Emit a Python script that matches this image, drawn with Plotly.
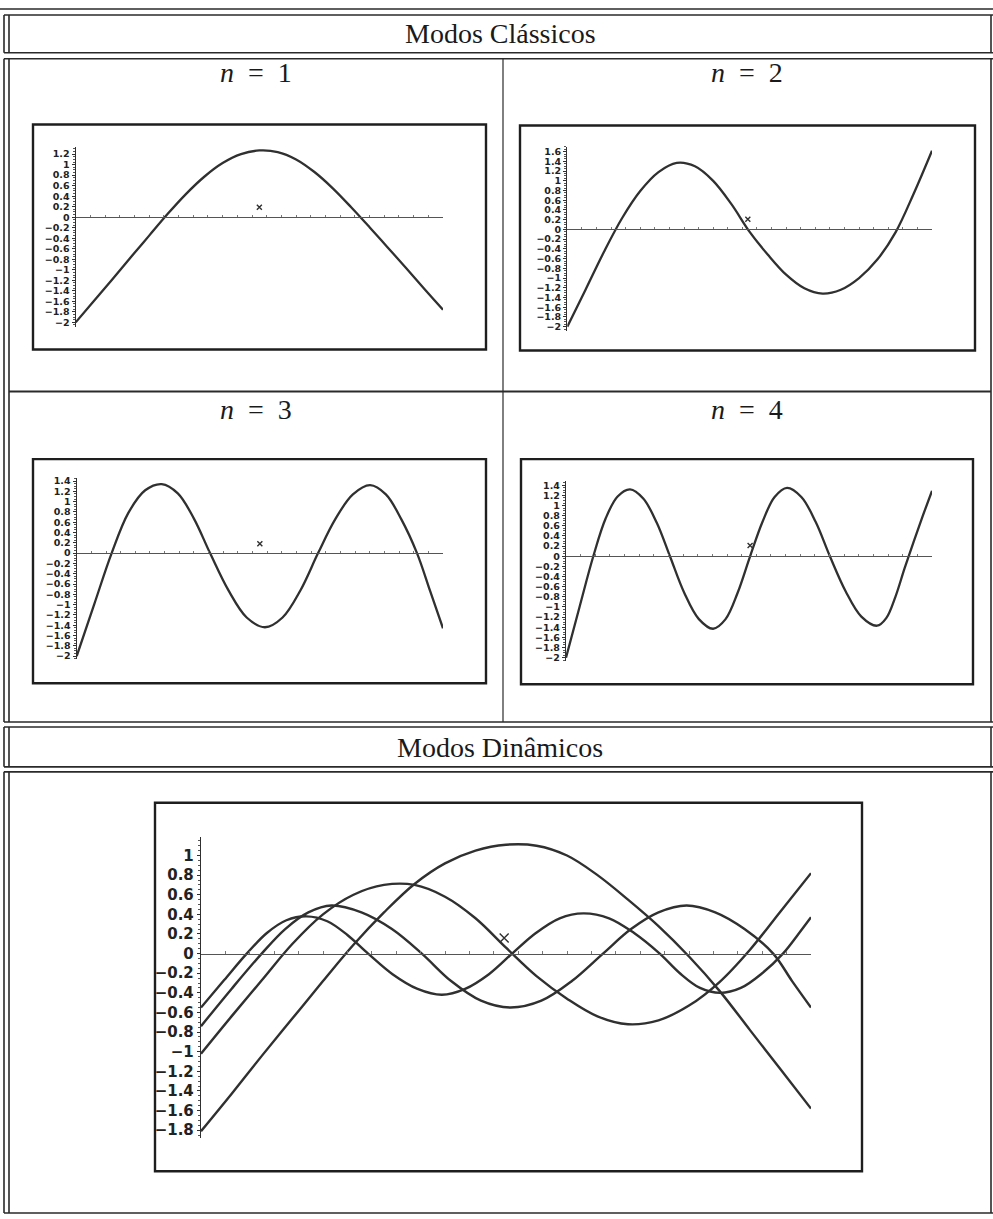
import plotly.graph_objects as go

W, H = 993, 1219

# ---------------- classical modes (x = fraction of the span) ----------------
n1_x = [0.00, 0.05, 0.10, 0.15, 0.20, 0.25, 0.30, 0.35, 0.40, 0.45, 0.50,
        0.55, 0.60, 0.65, 0.70, 0.75, 0.80, 0.85, 0.90, 0.95, 1.00]
n1_y = [-2.00, -1.59, -1.18, -0.76, -0.35, 0.06, 0.44, 0.77, 1.03, 1.20, 1.27,
        1.24, 1.10, 0.86, 0.55, 0.19, -0.19, -0.58, -0.97, -1.37, -1.76]

n2_x = [0.00, 0.05, 0.10, 0.15, 0.20, 0.25, 0.30, 0.35, 0.40, 0.45, 0.50,
        0.55, 0.60, 0.65, 0.70, 0.75, 0.80, 0.85, 0.90, 0.95, 1.00]
n2_y = [-2.00, -1.24, -0.47, 0.23, 0.79, 1.18, 1.37, 1.30, 1.00, 0.52, -0.05,
        -0.52, -0.93, -1.21, -1.32, -1.24, -1.00, -0.62, -0.06, 0.74, 1.62]

n3_x = [0.000, 0.048, 0.0955, 0.141, 0.187, 0.232, 0.276, 0.320, 0.364, 0.414,
        0.464, 0.514, 0.562, 0.611, 0.659, 0.706, 0.754, 0.801, 0.844, 0.886,
        0.929, 0.965, 1.000]
n3_y = [-2.00, -0.99, 0.00, 0.78, 1.22, 1.34, 1.16, 0.67, 0.00, -0.72,
        -1.25, -1.44, -1.25, -0.72, 0.00, 0.66, 1.14, 1.32, 1.14, 0.66,
        0.00, -0.74, -1.46]

n4_x = [0.000, 0.037, 0.0746, 0.108, 0.141, 0.175, 0.211, 0.248, 0.284, 0.323,
        0.363, 0.402, 0.436, 0.469, 0.503, 0.537, 0.570, 0.604, 0.643, 0.682,
        0.721, 0.764, 0.807, 0.850, 0.875, 0.900, 0.925, 0.950, 0.975, 1.000]
n4_y = [-2.00, -1.00, 0.00, 0.74, 1.18, 1.32, 1.14, 0.66, 0.00, -0.72,
        -1.24, -1.43, -1.24, -0.72, 0.00, 0.68, 1.17, 1.35, 1.17, 0.68,
        0.00, -0.69, -1.19, -1.37, -1.22, -0.80, -0.24, 0.29, 0.80, 1.29]

# ---------------- dynamic modes ----------------
d1_x = [0.00, 0.05, 0.10, 0.15, 0.20, 0.25, 0.30, 0.35, 0.40, 0.45, 0.50,
        0.55, 0.60, 0.65, 0.70, 0.75, 0.80, 0.85, 0.90, 0.95, 1.00]
d1_y = [-1.81, -1.43, -1.04, -0.66, -0.28, 0.09, 0.42, 0.71, 0.92, 1.05, 1.11,
        1.10, 1.00, 0.80, 0.55, 0.28, -0.03, -0.38, -0.78, -1.18, -1.58]

d2_x = [0.00, 0.05, 0.10, 0.15, 0.20, 0.25, 0.30, 0.35, 0.40, 0.45, 0.50,
        0.55, 0.60, 0.65, 0.70, 0.75, 0.80, 0.85, 0.90, 0.95, 1.00]
d2_y = [-1.02, -0.64, -0.27, 0.10, 0.40, 0.60, 0.70, 0.70, 0.58, 0.36, 0.06,
        -0.23, -0.46, -0.64, -0.72, -0.68, -0.53, -0.29, 0.04, 0.43, 0.82]

d3_x = [0.000, 0.050, 0.0995, 0.138, 0.176, 0.214, 0.263, 0.313, 0.362, 0.410,
        0.459, 0.507, 0.558, 0.608, 0.659, 0.705, 0.750, 0.796, 0.843, 0.891,
        0.938, 0.969, 1.000]
d3_y = [-0.74, -0.36, 0.00, 0.25, 0.42, 0.49, 0.42, 0.25, 0.00, -0.28,
        -0.48, -0.55, -0.48, -0.28, 0.00, 0.25, 0.42, 0.49, 0.42, 0.25,
        0.00, -0.28, -0.55]

d4_x = [0.000, 0.038, 0.075, 0.108, 0.140, 0.173, 0.207, 0.240, 0.274, 0.314,
        0.355, 0.395, 0.433, 0.472, 0.510, 0.549, 0.588, 0.627, 0.669, 0.710,
        0.752, 0.785, 0.818, 0.851, 0.885, 0.920, 0.954, 0.977, 1.000]
d4_y = [-0.55, -0.27, 0.00, 0.21, 0.34, 0.38, 0.33, 0.19, 0.00, -0.21,
        -0.36, -0.42, -0.36, -0.21, 0.00, 0.21, 0.36, 0.41, 0.36, 0.21,
        0.00, -0.20, -0.35, -0.40, -0.35, -0.20, 0.00, 0.18, 0.37]

# centre marker of each plot
mark_x = [0.50, 0.495, 0.50, 0.503, 0.497]
mark_y = [0.19, 0.21, 0.18, 0.21, 0.16]

# y tick values of each plot
ticks_n1 = [-2.0, -1.8, -1.6, -1.4, -1.2, -1.0, -0.8, -0.6, -0.4, -0.2, 0.0,
            0.2, 0.4, 0.6, 0.8, 1.0, 1.2]
ticks_n2 = [-2.0, -1.8, -1.6, -1.4, -1.2, -1.0, -0.8, -0.6, -0.4, -0.2, 0.0,
            0.2, 0.4, 0.6, 0.8, 1.0, 1.2, 1.4, 1.6]
ticks_n3 = [-2.0, -1.8, -1.6, -1.4, -1.2, -1.0, -0.8, -0.6, -0.4, -0.2, 0.0,
            0.2, 0.4, 0.6, 0.8, 1.0, 1.2, 1.4]
ticks_n4 = [-2.0, -1.8, -1.6, -1.4, -1.2, -1.0, -0.8, -0.6, -0.4, -0.2, 0.0,
            0.2, 0.4, 0.6, 0.8, 1.0, 1.2, 1.4]
ticks_dyn = [-1.8, -1.6, -1.4, -1.2, -1.0, -0.8, -0.6, -0.4, -0.2, 0.0,
             0.2, 0.4, 0.6, 0.8, 1.0]

titles = ["Modos Clássicos", "Modos Dinâmicos"]
panel_titles = ["<i>n</i>\u2002=\u20021", "<i>n</i>\u2002=\u20022",
                "<i>n</i>\u2002=\u20023", "<i>n</i>\u2002=\u20024"]

INK = "#303030"


def fx(px):
    return px / W


def fy(py):
    return 1 - py / H


def tick_text(v):
    return f"{v:g}".replace("-", "\u2212")


# plot layout: axis extents in pixels, y range, font size, line width
plots = [
    dict(curves=[(n1_x, n1_y)], x0=75.7, x1=443, top=144.9, bot=324.9,
         yr=[-2.08, 1.33], ticks=ticks_n1, fs=9.5, lw=2.3, ms=5),
    dict(curves=[(n2_x, n2_y)], x0=567.3, x1=932, top=144.4, bot=328.9,
         yr=[-2.08, 1.70], ticks=ticks_n2, fs=9.5, lw=2.3, ms=5),
    dict(curves=[(n3_x, n3_y)], x0=76.7, x1=443, top=477.4, bot=658.9,
         yr=[-2.06, 1.45], ticks=ticks_n3, fs=9.5, lw=2.3, ms=5),
    dict(curves=[(n4_x, n4_y)], x0=566, x1=932, top=480.2, bot=660.4,
         yr=[-2.06, 1.48], ticks=ticks_n4, fs=9.5, lw=2.3, ms=5),
    dict(curves=[(d1_x, d1_y), (d2_x, d2_y), (d3_x, d3_y), (d4_x, d4_y)],
         x0=201, x1=811, top=837.3, bot=1139.7,
         yr=[-1.88, 1.19], ticks=ticks_dyn, fs=15, lw=2.4, ms=9),
]

fig = go.Figure()
layout = {}

for i, p in enumerate(plots):
    k = "" if i == 0 else str(i + 1)
    xa, ya = "x" + k, "y" + k
    for cx, cy in p["curves"]:
        fig.add_trace(go.Scatter(
            x=cx, y=cy, mode="lines", xaxis=xa, yaxis=ya,
            line=dict(color=INK, width=p["lw"], shape="spline", smoothing=1.0),
            hoverinfo="skip", showlegend=False))
    fig.add_trace(go.Scatter(
        x=[mark_x[i]], y=[mark_y[i]], mode="markers", xaxis=xa, yaxis=ya,
        marker=dict(symbol="x-thin", size=p["ms"], line=dict(color=INK, width=1.4)),
        hoverinfo="skip", showlegend=False))

    d0, d1 = fy(p["bot"]), fy(p["top"])
    r0, r1 = p["yr"]
    zero_pos = d0 + (0 - r0) / (r1 - r0) * (d1 - d0)
    layout["xaxis" + k] = dict(
        domain=[fx(p["x0"]), fx(p["x1"])], range=[0, 1], anchor="free",
        position=zero_pos, showline=True, linecolor="#555", linewidth=1,
        ticks="inside", tick0=0, dtick=0.04, ticklen=2.5, tickwidth=1,
        tickcolor="#777", showticklabels=False, showgrid=False, zeroline=False,
        fixedrange=True)
    layout["yaxis" + k] = dict(
        domain=[d0, d1], range=p["yr"], anchor=xa, showline=True,
        linecolor=INK, linewidth=1.4, ticks="outside", ticklen=3,
        tickwidth=1, tickcolor=INK, tickvals=p["ticks"],
        ticktext=[tick_text(v) for v in p["ticks"]],
        tickfont=dict(family="DejaVu Sans", size=p["fs"], color="#222",
                      weight="bold"),
        minor=dict(tick0=0, dtick=0.05, ticks="outside", ticklen=2,
                   tickcolor="#555", tickwidth=1, showgrid=False),
        showgrid=False, zeroline=False, fixedrange=True)

# frames around the plots (pixel boxes)
frames = [(33, 122, 486, 348), (520, 123, 975, 349), (33, 458, 486, 683),
          (521, 458, 973, 684), (155, 803, 862, 1173)]
shapes = []
for x0, y0, x1, y1 in frames:
    shapes.append(dict(type="rect", xref="paper", yref="paper",
                       x0=fx(x0), x1=fx(x1), y0=fy(y1), y1=fy(y0),
                       line=dict(color="#1e1e1e", width=2.4)))


def hline(y, x0, x1, w=1.6):
    shapes.append(dict(type="line", xref="paper", yref="paper",
                       x0=fx(x0), x1=fx(x1), y0=fy(y), y1=fy(y),
                       line=dict(color="#2a2a2a", width=w)))


def vline(x, y0, y1, w=1.6):
    shapes.append(dict(type="line", xref="paper", yref="paper",
                       x0=fx(x), x1=fx(x), y0=fy(y0), y1=fy(y1),
                       line=dict(color="#2a2a2a", width=w)))


# table rules
hline(6, 0, 993)
for top, bot in [(12, 50), (56, 722), (727, 767), (772, 1215)]:
    hline(top, 4, 993)
    hline(bot, 4, 993)
    vline(4, top, bot)
    vline(9, top, bot)
    vline(991, top, bot)
vline(503, 56, 722, 1.2)
hline(390, 9, 991, 2.0)

serif = dict(family="Liberation Serif", size=28, color="#1a1a1a")
annotations = [
    dict(text=titles[0], x=fx(500), y=fy(31), font=serif),
    dict(text=titles[1], x=fx(500), y=fy(748), font=serif),
    dict(text=panel_titles[0], x=fx(256), y=fy(70), font=serif),
    dict(text=panel_titles[1], x=fx(747), y=fy(70), font=serif),
    dict(text=panel_titles[2], x=fx(256), y=fy(408), font=serif),
    dict(text=panel_titles[3], x=fx(747), y=fy(408), font=serif),
]
for a in annotations:
    a.update(xref="paper", yref="paper", showarrow=False,
             xanchor="center", yanchor="middle")

fig.update_layout(
    width=W, height=H, margin=dict(l=0, r=0, t=0, b=0, pad=0),
    paper_bgcolor="white", plot_bgcolor="white", showlegend=False,
    shapes=shapes, annotations=annotations, **layout)

fig.write_html("out.html")
